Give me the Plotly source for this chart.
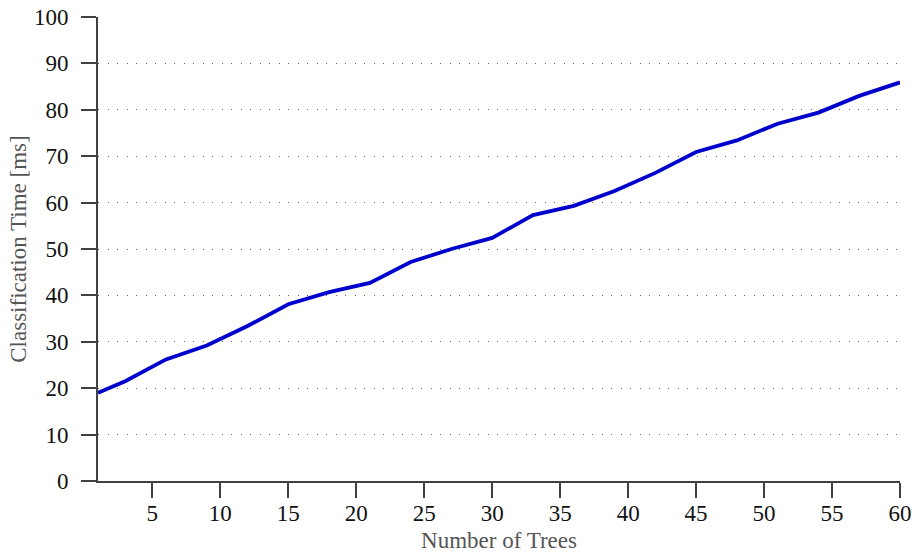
import plotly.graph_objects as go

trees = [1, 3, 6, 9, 12, 15, 18, 21, 24, 27, 30, 33, 36, 39, 42, 45, 48, 51, 54, 57, 60]
time_ms = [19.0, 21.5, 26.2, 29.2, 33.4, 38.1, 40.7, 42.7, 47.2, 50.0, 52.4, 57.3, 59.3, 62.5, 66.4, 70.9, 73.4, 77.0, 79.4, 83.0, 85.9]
x_ticks = [5, 10, 15, 20, 25, 30, 35, 40, 45, 50, 55, 60]
y_ticks = [0, 10, 20, 30, 40, 50, 60, 70, 80, 90, 100]

FONT = "Liberation Serif"

fig = go.Figure()
fig.add_trace(go.Scatter(x=trees, y=time_ms, mode="lines",
                         line=dict(color="#0000CC", width=3.8),
                         showlegend=False))

fig.update_layout(
    width=915, height=559,
    margin=dict(l=98, r=15, t=17, b=78),
    paper_bgcolor="white", plot_bgcolor="white",
    font=dict(family=FONT, size=23, color="#111111"),
)
fig.update_xaxes(
    range=[1, 60], tickvals=x_ticks, ticktext=[str(v) for v in x_ticks],
    showgrid=False, zeroline=False, automargin=False,
    showline=True, linecolor="#404040", linewidth=2,
    ticks="outside", ticklen=15, tickwidth=2, tickcolor="#404040",
    ticklabelstandoff=-5,
    title=dict(text="Number of Trees", font=dict(family=FONT, size=23, color="#555555"), standoff=7),
)
fig.update_yaxes(
    range=[0, 100], tickvals=y_ticks, ticktext=[str(v) for v in y_ticks],
    showgrid=True, gridcolor="#666666", griddash="1.2px,8.3px", gridwidth=1.3,
    zeroline=False, automargin=False,
    showline=True, linecolor="#404040", linewidth=2,
    ticks="outside", ticklen=15, tickwidth=2, tickcolor="#404040",
    ticklabelstandoff=8,
    title=dict(text="Classification Time [ms]", font=dict(family=FONT, size=23, color="#555555"), standoff=1),
)

fig.write_html("out.html")
